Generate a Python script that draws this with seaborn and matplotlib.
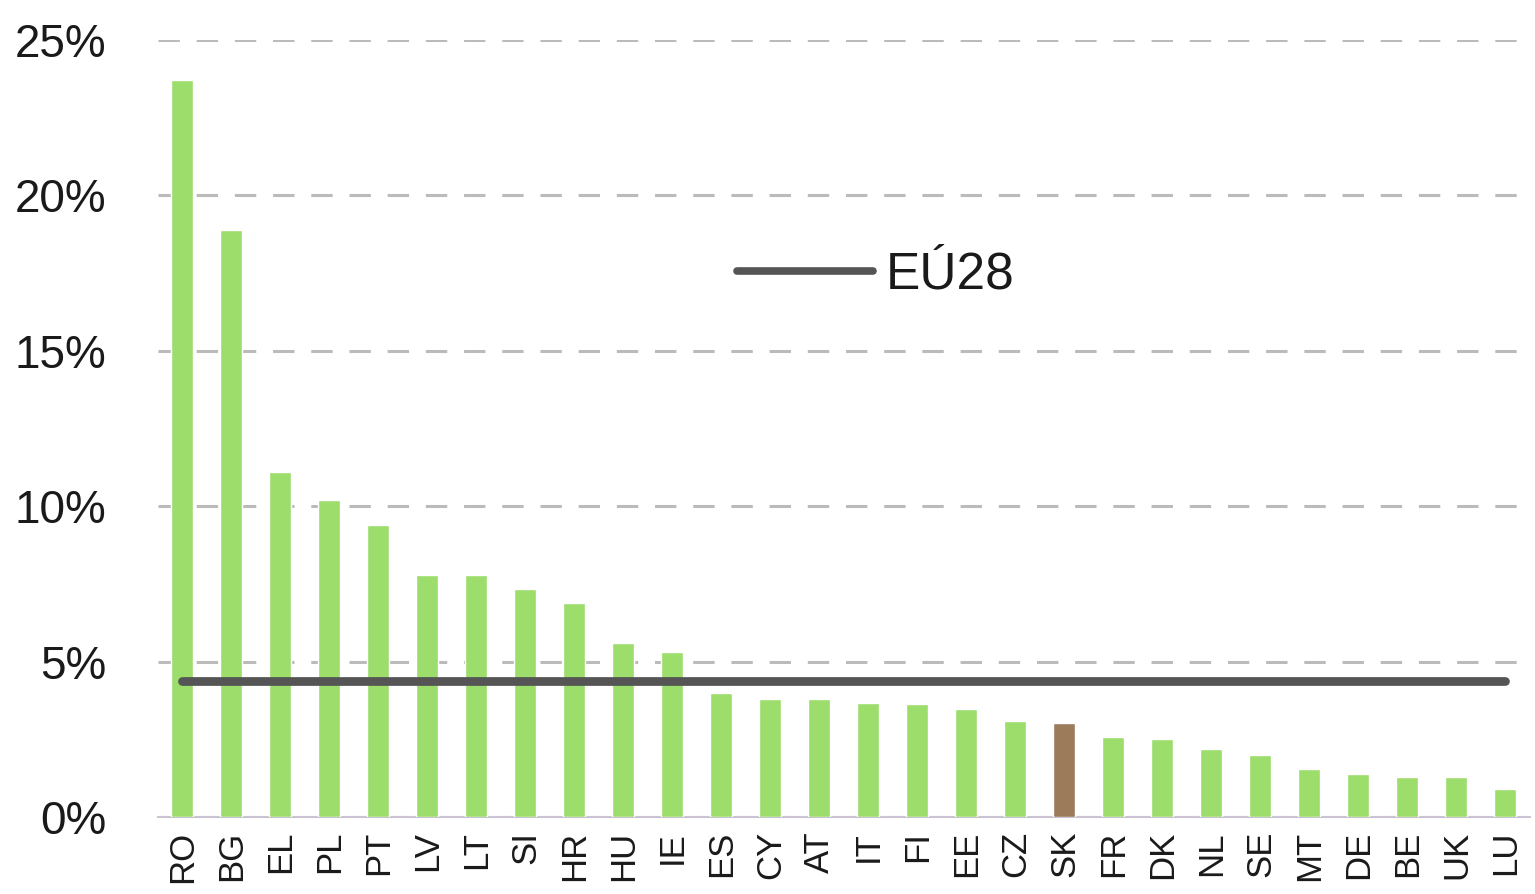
import matplotlib
matplotlib.use("Agg")
import matplotlib.pyplot as plt
import seaborn as sns
import numpy as np
import pandas as pd

countries = ["RO", "BG", "EL", "PL", "PT", "LV", "LT", "SI", "HR", "HU", "IE", "ES", "CY", "AT",
             "IT", "FI", "EE", "CZ", "SK", "FR", "DK", "NL", "SE", "MT", "DE", "BE", "UK", "LU"]
values = [23.7, 18.9, 11.1, 10.2, 9.4, 7.8, 7.8, 7.35, 6.9, 5.6, 5.3, 4.0, 3.8, 3.8,
          3.67, 3.65, 3.47, 3.1, 3.03, 2.57, 2.5, 2.2, 2.0, 1.55, 1.4, 1.3, 1.3, 0.9]
eu28 = 4.37
eu_label = "EÚ28"
yticks = [0, 5, 10, 15, 20, 25]
ytick_labels = ["0%", "5%", "10%", "15%", "20%", "25%"]
highlight = "SK"

green = "#9CDD6C"
brown = "#9B7B5A"
line_col = "#555555"
text_col = "#1a1a1a"

sns.set_style("white")
fam = ["Liberation Sans Narrow", "Liberation Sans", "DejaVu Sans"]
plt.rcParams["font.family"] = fam

fig = plt.figure(figsize=(15.35, 8.94), dpi=100)
ax = fig.add_axes([0.1029, 0.0861, 0.8938, 0.8692])

df = pd.DataFrame({"country": countries, "value": values})
palette = {c: (brown if c == highlight else green) for c in countries}
sns.barplot(data=df, x="country", y="value", hue="country", palette=palette,
            width=0.45, legend=False, ax=ax, saturation=1, zorder=3)

eu_df = pd.DataFrame({"country": countries, "value": [eu28] * len(countries)})
sns.lineplot(data=eu_df, x="country", y="value", sort=False, color=line_col,
             linewidth=6.3, ax=ax, zorder=4, solid_capstyle="round", label=eu_label)

ax.set_ylim(0, 25)
ax.set_xlim(-0.5, len(countries) - 0.5)
ax.set_yticks(yticks)
ax.set_yticklabels(ytick_labels, fontsize=33, color=text_col)
ax.yaxis.grid(True, linestyle=(0, (7, 5.5)), color="#BBBBBB", linewidth=2.2, zorder=0)
ax.set_axisbelow(True)
ax.tick_params(axis="y", length=0, pad=37)
ax.set_xlabel("")
ax.set_ylabel("")
ax.set_xticks(range(len(countries)))
ax.set_xticklabels(countries, rotation=90, fontsize=25, color=text_col)
ax.tick_params(axis="x", which="major", length=0, pad=10)
ax.set_xticks(np.arange(-0.5, len(countries), 1), minor=True)
ax.tick_params(axis="x", which="minor", length=9, width=1.5, color="#CCC4D4")

for s in ["top", "right", "left"]:
    ax.spines[s].set_visible(False)
ax.spines["bottom"].set_color("#CCC4D4")
ax.spines["bottom"].set_linewidth(1.5)

leg = ax.legend(loc="center left", bbox_to_anchor=(0.388, 0.697), frameon=False,
                fontsize=37, handlelength=2.65, handletextpad=0.25, labelcolor=text_col)
for h in leg.get_lines():
    h.set_linewidth(5.5)

fig.savefig("out.png", dpi=100)
